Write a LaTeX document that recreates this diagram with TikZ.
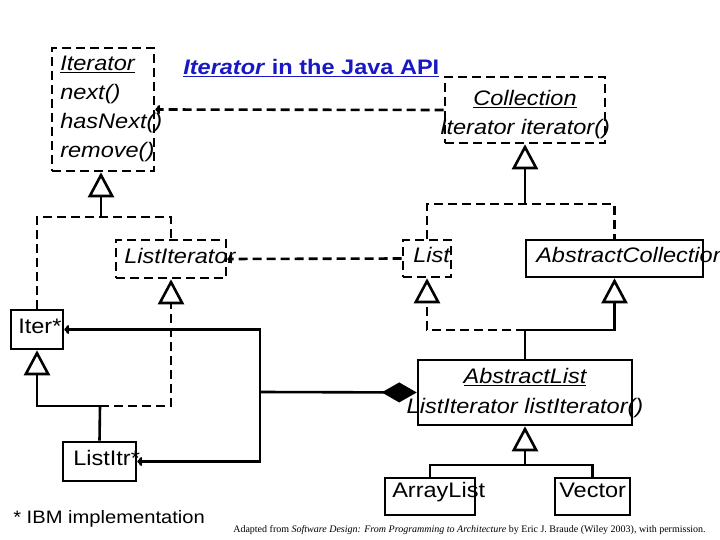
\documentclass[tikz,border=0pt]{standalone}
\usepackage{fontspec}
\setmainfont{Liberation Sans}[FakeStretch=1.12]
\newfontfamily\notefont{Liberation Serif}
\usetikzlibrary{arrows.meta}
\definecolor{titleblue}{RGB}{24,24,196}

\begin{document}
\begin{tikzpicture}[x=1pt, y=-1pt, line width=2.6pt,
    cls/.style = {draw, inner sep=0pt},
    iface/.style = {cls, dsh},
    dsh/.style = {dash pattern=on 9pt off 5pt},
    txt/.style = {inner sep=0pt, font=\fontsize{21}{29}\selectfont},
    itx/.style = {txt, font=\fontsize{21}{29}\selectfont\itshape},
    inh/.style = {-{Triangle[open, length=25pt, width=26pt]}},
    dep/.style = {-{To[length=5pt, width=9pt]}},
    comp/.style = {{Diamond[length=35pt, width=20pt]}-}]
    \useasboundingbox (0,0) rectangle (720,540);

    \node[iface, minimum width=102pt, minimum height=123pt] (iter) at (103,109.5) {};
    \node[iface, minimum width=110pt, minimum height=38pt] (listiter) at (171,259) {};
    \node[cls, minimum width=52pt, minimum height=39pt] (iterstar) at (37,329.5) {};
    \node[cls, minimum width=73pt, minimum height=39pt] (listitr) at (99.5,461.5) {};
    \node[iface, minimum width=160pt, minimum height=66pt] (coll) at (525,110) {};
    \node[iface, minimum width=48pt, minimum height=37pt] (list) at (427,258.5) {};
    \node[cls, minimum width=177pt, minimum height=37pt] (abscoll) at (614.5,258.5) {};
    \node[cls, minimum width=214pt, minimum height=65pt] (abslist) at (525,392.5) {};
    \node[cls, minimum width=90pt, minimum height=37pt] (arraylist) at (430,496.5) {};
    \node[cls, minimum width=75pt, minimum height=37pt] (vector) at (592.5,496.5) {};

    \node[itx, align=left, anchor=north west] (iterT) at (59,55) {\underline{Iterator}\\next()\\hasNext()\\remove()};
    \node[itx, anchor=base west] (listiterT) at (123,263) {ListIterator};
    \node[txt, anchor=base west] (iterstarT) at (17,333) {Iter*};
    \node[txt, anchor=base west] (listitrT) at (72,465) {ListItr*};
    \node[itx, align=center, anchor=north] (collT) at (525,89) {\underline{Collection}\\Iterator iterator()};
    \node[itx, anchor=base west] (listT) at (412,262) {List};
    \node[itx, anchor=base west] (abscollT) at (535,262) {AbstractCollection};
    \node[itx, align=center, anchor=north, font=\fontsize{21}{30}\selectfont\itshape] (abslistT) at (525,367) {\underline{AbstractList}\\ListIterator listIterator()};
    \node[txt, anchor=base west] (arraylistT) at (391,497) {ArrayList};
    \node[txt, anchor=base west] (vectorT) at (558,497) {Vector};

    \node[txt, anchor=base west, text=titleblue, font=\fontsize{21}{25}\selectfont\bfseries] (title) at (182,75) {\underline{\textit{Iterator} in the Java API}};
    \node[txt, anchor=base west, font=\fontsize{18}{22}\selectfont] (ibm) at (12,523) {* IBM implementation};
    \node[inner sep=0pt, anchor=base west, font=\notefont\fontsize{10}{12}\selectfont] (credit) at (232,532) {Adapted from \textit{Software Design: From Programming to Architecture} by Eric J. Braude (Wiley 2003), with permission.};

    \coordinate (j1) at (101,217);
    \coordinate (j2) at (525,204);
    \coordinate (j3) at (525,330);
    \coordinate (j4) at (525,465);
    \coordinate (j5) at (100,406);
    \coordinate (j7) at (260,392);

    \draw[dsh] (iterstar.north) |- (j1) -| (listiter.north);
    \draw[inh] (j1) -- (j1 |- iter.south);
    \draw[dsh, inh] (j5) -| (listiter.south);
    \draw[inh] (j5) -| (iterstar.south);
    \draw (listitr.north) -- (j5);

    \draw[dsh] (list.north) |- (j2) -| (abscoll.north);
    \draw[inh] (j2) -- (coll.south);
    \draw[dsh, inh] (j3) -| (list.south);
    \draw[inh] (j3) -| (abscoll.south);
    \draw (abslist.north) -- (j3);
    \draw[inh] (j4) -- (abslist.south);
    \draw (arraylist.north) |- (j4) -| (vector.north);

    \draw[dsh, dep] (coll.west) -- (iter.east);
    \draw[dsh, dep] (list.west) -- (listiter.east);
    \draw[comp] (abslist.west) -- (j7);
    \draw[dep] (j7) |- (iterstar.east);
    \draw[dep] (j7) |- (listitr.east);
\end{tikzpicture}
\end{document}
